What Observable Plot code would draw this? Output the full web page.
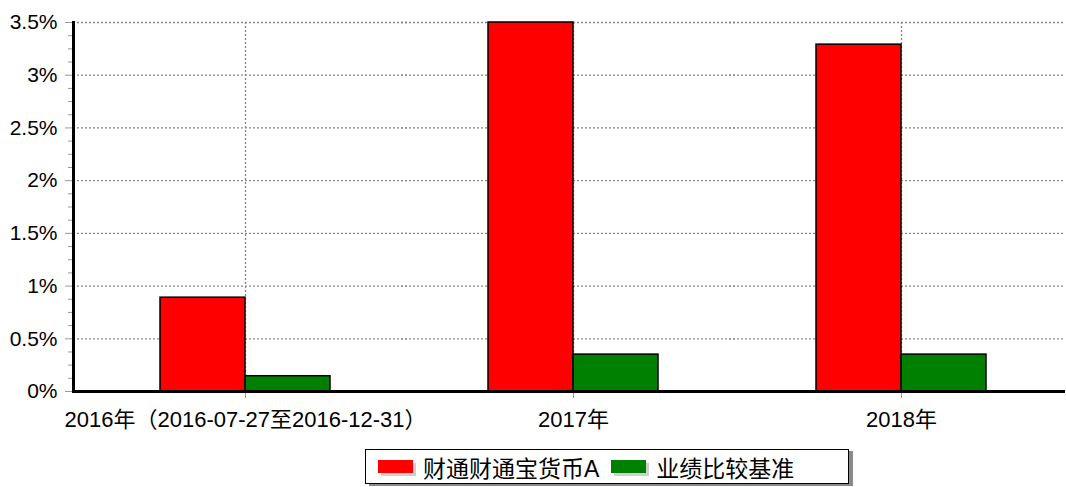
<!DOCTYPE html>
<html><head><meta charset="utf-8">
<script src="https://cdn.jsdelivr.net/npm/d3@7"></script>
<script src="https://cdn.jsdelivr.net/npm/@observablehq/plot@0.6"></script>
<style>
body{margin:0;background:#fff;font-family:"Liberation Sans",Arial,"Noto Sans CJK SC",sans-serif;}
#wrap{position:relative;width:1066px;height:487px;}
#legend{position:absolute;left:365px;top:449px;width:482px;height:33px;border:1px solid #000;box-shadow:4px 2px 0 #8a8a8a;background:#fff;display:flex;align-items:center;font-size:23px;color:#000;}
.item{display:flex;align-items:center;margin-left:12px;margin-right:0px;}
.sw{width:35px;height:13px;margin-right:10px;box-shadow:3px 3px 0 #cfcfcf;}
</style></head><body><div id="wrap"><div id="chart"></div><div id="legend"></div></div>
<script>
const years = ["2016年（2016-07-27至2016-12-31）", "2017年", "2018年"];
const seriesNames = ["财通财通宝货币A", "业绩比较基准"];
const fundValues = [0.89, 3.50, 3.29];
const benchValues = [0.145, 0.35, 0.35];
const seriesColors = ["#ff0000", "#008000"];
const yTicks = [0, 0.5, 1, 1.5, 2, 2.5, 3, 3.5];
const yMinorTicks = [0.125,0.25,0.375,0.625,0.75,0.875,1.125,1.25,1.375,1.625,1.75,1.875,2.125,2.25,2.375,2.625,2.75,2.875,3.125,3.25,3.375];

const data = years.flatMap((y, i) => [
  {year: y, series: seriesNames[0], value: fundValues[i]},
  {year: y, series: seriesNames[1], value: benchValues[i]}
]);

const font = '"Liberation Sans", Arial, "Noto Sans CJK SC", sans-serif';
const axisGap = 8;
const plot = Plot.plot({
  width: 1066, height: 440,
  marginLeft: 73, marginRight: 0, marginTop: 22, marginBottom: 49,
  style: {fontFamily: font, fontSize: "21px", background: "#fff", color: "#000"},
  fx: {domain: years, paddingInner: 0, paddingOuter: 0.0137, align: 0.89, label: null},
  x: {domain: seriesNames, paddingInner: 0, paddingOuter: 0.907, axis: null},
  y: {domain: [0, 3.5], label: null},
  color: {domain: seriesNames, range: seriesColors},
  marks: [
    Plot.ruleY(yTicks.slice(1), {stroke: "#888", strokeDasharray: "2,2", strokeWidth: 1.3, insetLeft: -axisGap}),
    Plot.gridFx({stroke: "#888", strokeOpacity: 1, strokeDasharray: "2,2", strokeWidth: 1.3}),
    Plot.barY(data, {fx: "year", x: "series", y: "value", fill: "series", stroke: "#000", strokeWidth: 1.5}),
    Plot.axisY(yMinorTicks, {tickSize: 5, tickFormat: () => "", stroke: "#999", dx: -axisGap}),
    Plot.axisY(yTicks, {tickSize: 8, tickPadding: 8, tickFormat: d => d + "%", stroke: "#999", fill: "#000", dx: -axisGap}),
    Plot.axisFx({anchor: "bottom", tickSize: 7, tickPadding: 13, stroke: "#999", fill: "#000", label: null, fontSize: 22}),
    Plot.frame({anchor: "left", facetAnchor: "left", stroke: "#000", strokeWidth: 3, dx: -axisGap}),
    Plot.ruleY([0], {stroke: "#000", strokeWidth: 3, insetLeft: -axisGap})
  ]
});
document.getElementById("chart").appendChild(plot);

const legend = document.getElementById("legend");
seriesNames.forEach((name, i) => {
  const item = document.createElement("div");
  item.className = "item";
  const sw = document.createElement("div");
  sw.className = "sw";
  sw.style.background = seriesColors[i];
  const t = document.createElement("span");
  t.textContent = name;
  item.appendChild(sw); item.appendChild(t);
  legend.appendChild(item);
});
</script></body></html>
